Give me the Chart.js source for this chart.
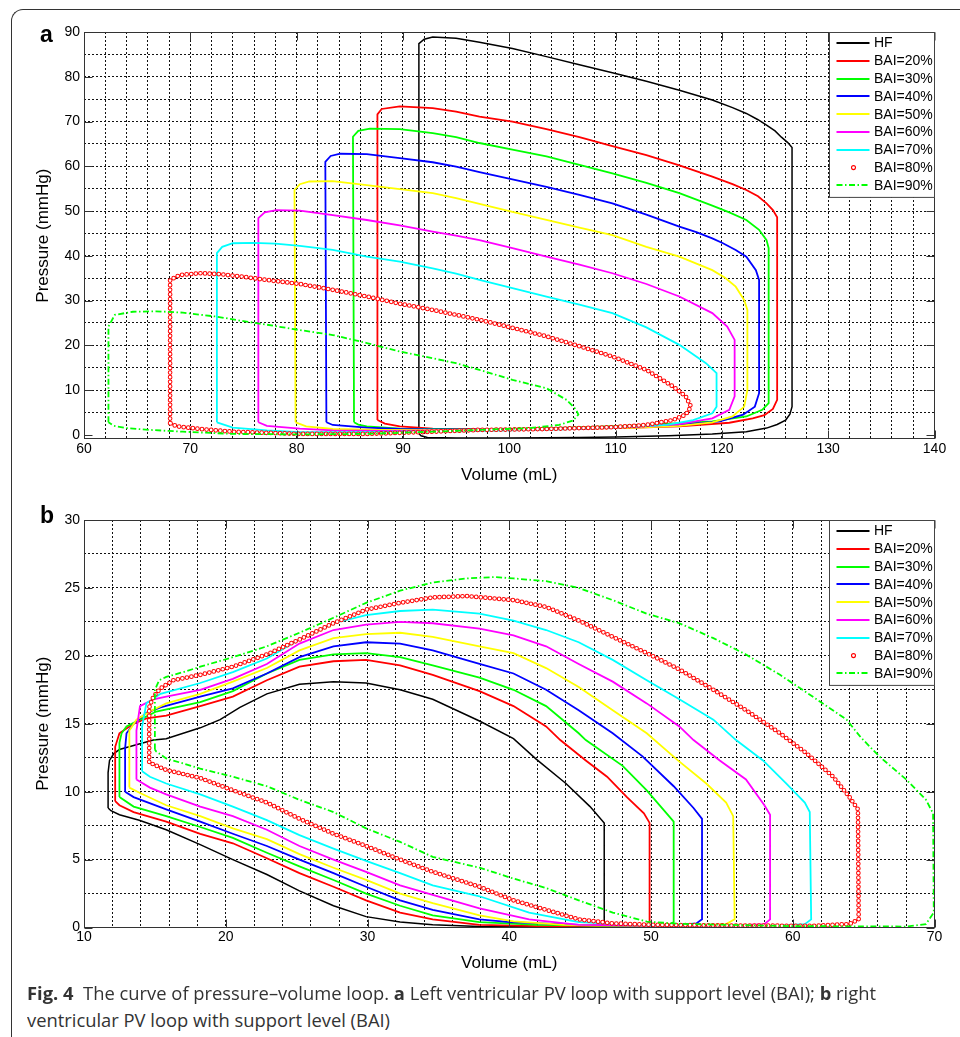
<!DOCTYPE html>
<html>
<head>
<meta charset="utf-8">
<title>Pressure–volume loops</title>
<script src="https://cdn.jsdelivr.net/npm/chart.js@4/dist/chart.umd.min.js"></script>
<style>
  html, body { margin: 0; padding: 0; background: #fff; }
  body { width: 960px; height: 1037px; position: relative; overflow: hidden;
         font-family: "Liberation Sans", Arial, sans-serif; }
  .frame { position: absolute; left: 11px; top: 9px; width: 1000px; height: 1100px;
           border-top: 1.4px solid #333; border-left: 1.4px solid #333; border-top-left-radius: 12px; }
  canvas { position: absolute; left: 0; }
  #cvA { top: 0; }
  #cvB { top: 490px; }
  .panel { position: absolute; font-weight: bold; font-size: 23px; line-height: 1; color: #000; }
  .cap { position: absolute; left: 27px; font-family: "Open Sans", sans-serif; font-size: 18.5px;
         line-height: 1; color: #333; white-space: nowrap; transform-origin: 0 0; }
</style>
</head>
<body>
<div class="frame"></div>
<canvas id="cvA" width="960" height="490"></canvas>
<canvas id="cvB" width="960" height="500"></canvas>
<div class="panel" style="left:40px;top:23px">a</div>
<div class="panel" style="left:40px;top:504px">b</div>
<div class="cap" id="cap1" style="top:984px"><b>Fig. 4</b>&nbsp; The curve of pressure–volume loop. <b>a</b> Left ventricular PV loop with support level (BAI); <b>b</b> right</div>
<div class="cap" id="cap2" style="top:1011px">ventricular PV loop with support level (BAI)</div>

<script>
// ---- series names ----
const seriesLabels = ['HF', 'BAI=20%', 'BAI=30%', 'BAI=40%', 'BAI=50%', 'BAI=60%', 'BAI=70%', 'BAI=80%', 'BAI=90%'];

// ---- left ventricle loops: [volume mL, pressure mmHg] ----
const lvHF = [[91.5,0.3],[91.5,87.4],[92.0,88.4],[92.8,88.9],[95.0,88.6],[97.2,87.7],[100.3,86.3],[103.5,84.5],[106.6,82.7],[109.7,80.9],[112.9,79.0],[116.0,77.0],[119.1,74.8],[121.0,73.1],[122.3,71.8],[123.4,70.4],[124.2,69.2],[125.0,67.9],[125.6,66.5],[126.2,65.3],[126.6,64.2],[126.6,6.3],[126.4,4.6],[126.0,3.3],[125.2,2.3],[124.2,1.5],[122.3,0.7],[119.1,0.2],[115.0,-0.2],[110.0,-0.5],[106.6,-0.6],[100.0,-0.7],[95.0,-0.7],[92.3,-0.6],[91.7,-0.2],[91.5,0.3]];
const lvBAI20 = [[87.6,3.3],[87.6,71.6],[88.0,72.8],[89.7,73.4],[92.8,73.0],[95.0,72.2],[97.2,71.1],[100.3,70.0],[103.5,68.3],[106.6,66.5],[109.7,64.5],[112.9,62.5],[116.0,60.2],[119.1,57.7],[121.0,56.0],[122.3,54.7],[123.4,53.3],[124.2,51.7],[124.8,50.2],[125.2,48.6],[125.2,7.8],[124.8,5.8],[124.0,4.4],[122.9,3.7],[120.7,2.7],[118.0,2.2],[116.0,1.9],[112.0,1.6],[107.0,1.4],[102.0,1.2],[97.2,1.1],[92.8,1.4],[89.7,1.9],[88.3,2.5],[87.6,3.3]];
const lvBAI30 = [[85.4,2.8],[85.3,66.6],[85.8,67.9],[86.9,68.4],[89.7,68.3],[92.8,67.4],[95.0,66.5],[97.2,65.2],[100.3,63.7],[103.5,62.2],[106.6,60.3],[109.7,58.4],[112.9,56.3],[116.0,54.0],[119.1,51.2],[120.7,49.7],[122.3,48.0],[123.5,45.8],[124.2,43.5],[124.4,41.7],[124.4,7.1],[123.8,5.6],[122.3,4.1],[119.1,3.0],[116.0,2.6],[112.0,2.1],[107.0,1.7],[102.0,1.4],[97.2,1.2],[92.8,1.3],[89.7,1.4],[86.6,1.9],[85.8,2.3],[85.4,2.8]];
const lvBAI40 = [[82.8,2.8],[82.7,61.0],[83.2,62.3],[84.1,62.8],[86.6,62.7],[89.7,61.8],[92.8,60.9],[95.0,59.9],[97.2,58.7],[100.3,57.1],[103.5,55.4],[106.6,53.6],[109.7,51.7],[112.9,49.2],[116.0,46.5],[117.6,45.3],[119.1,43.9],[120.1,42.8],[121.3,41.3],[122.3,39.8],[123.2,36.8],[123.5,34.6],[123.5,9.3],[123.1,6.3],[122.0,4.5],[119.8,3.0],[116.0,2.2],[112.0,1.8],[107.0,1.5],[102.0,1.3],[97.2,1.2],[92.8,1.2],[89.7,1.3],[86.6,1.6],[83.4,2.2],[82.8,2.8]];
const lvBAI50 = [[79.9,2.8],[79.8,54.7],[80.3,56.0],[81.2,56.6],[83.4,56.7],[86.6,55.8],[89.7,54.9],[92.8,54.0],[95.0,52.9],[97.2,51.6],[100.3,49.8],[103.5,48.0],[106.6,46.3],[109.7,44.6],[112.9,42.0],[116.0,39.8],[119.1,36.8],[120.3,35.1],[121.3,33.1],[122.1,30.1],[122.4,27.9],[122.4,10.0],[122.1,6.3],[121.0,4.1],[119.1,2.8],[116.0,2.0],[112.0,1.6],[107.0,1.4],[102.0,1.2],[97.2,1.1],[92.8,1.1],[88.0,1.1],[83.4,1.3],[80.9,1.9],[79.9,2.8]];
const lvBAI60 = [[76.4,2.8],[76.4,48.4],[77.0,49.7],[78.1,50.2],[80.3,50.1],[83.4,49.1],[86.6,48.0],[89.7,46.8],[92.8,45.4],[95.0,44.5],[97.2,43.5],[100.3,41.7],[103.5,39.8],[106.6,38.0],[109.7,36.1],[112.9,33.7],[116.0,30.9],[119.1,27.2],[120.5,24.2],[121.2,21.2],[121.2,8.6],[120.7,5.6],[119.1,3.7],[116.0,2.4],[112.0,1.8],[107.0,1.4],[102.0,1.2],[97.2,1.0],[92.8,1.0],[88.0,0.9],[83.4,1.0],[80.3,1.4],[77.2,2.0],[76.4,2.8]];
const lvBAI70 = [[72.5,2.8],[72.5,40.6],[73.0,42.0],[74.0,42.8],[75.9,42.9],[78.0,42.7],[80.3,42.2],[83.4,41.3],[86.6,39.8],[89.7,38.7],[92.8,37.2],[95.0,36.0],[97.2,34.6],[100.3,32.8],[103.5,30.9],[106.6,29.1],[109.7,27.2],[112.9,24.0],[116.0,20.1],[118.5,16.0],[119.5,13.8],[119.5,6.3],[119.1,4.8],[117.3,3.3],[114.8,2.2],[110.0,1.6],[105.0,1.2],[100.0,1.0],[95.0,0.8],[90.0,0.7],[85.0,0.6],[80.3,0.6],[77.2,1.0],[74.0,1.6],[72.5,2.8]];
const lvBAI80 = [[68.1,2.6],[68.1,34.6],[69.0,35.7],[70.9,36.1],[72.8,35.9],[75.0,35.3],[77.2,34.6],[80.3,33.7],[83.4,32.4],[86.6,30.9],[89.7,29.3],[92.8,27.9],[95.0,26.8],[97.2,25.7],[100.3,23.9],[103.5,22.0],[106.6,19.8],[109.7,17.5],[112.9,14.5],[115.4,10.8],[116.6,8.6],[117.1,6.3],[116.6,4.5],[115.4,3.3],[112.9,2.2],[109.7,1.7],[106.6,1.5],[103.5,1.3],[97.2,1.1],[92.8,0.7],[86.6,0.2],[80.3,0.2],[74.0,0.7],[70.9,1.3],[68.7,1.9],[68.1,2.6]];
const lvBAI90 = [[62.3,2.8],[62.3,24.2],[62.9,26.8],[64.6,27.5],[66.8,27.6],[69.3,27.3],[72.5,26.4],[75.0,25.4],[77.2,24.6],[80.3,23.4],[83.4,22.3],[86.6,20.5],[89.7,18.6],[92.8,17.1],[95.0,16.0],[97.2,14.5],[100.3,12.3],[103.5,10.4],[105.4,7.8],[106.3,5.6],[106.5,4.5],[106.0,3.2],[104.7,2.2],[101.9,1.5],[97.2,1.1],[92.8,0.7],[86.6,0.2],[80.3,0.1],[74.0,0.2],[69.3,0.7],[66.2,1.1],[64.0,1.5],[62.8,2.0],[62.3,2.8]];

// ---- right ventricle loops: [volume mL, pressure mmHg] ----
const rvHF = [[11.7,8.8],[11.7,11.4],[11.8,12.3],[12.1,12.8],[12.5,13.1],[13.5,13.4],[14.9,13.8],[15.8,13.9],[18.2,14.7],[19.6,15.3],[21.0,16.2],[22.9,17.2],[25.2,17.9],[27.6,18.1],[29.9,18.0],[32.3,17.5],[34.6,16.8],[37.9,15.2],[40.3,13.9],[41.9,12.4],[44.0,10.6],[45.7,8.9],[46.7,7.7],[46.7,0.2],[45.0,0.05],[40.0,0.05],[37.9,0.07],[34.6,0.2],[32.3,0.4],[29.9,0.8],[27.6,1.6],[25.2,2.7],[22.9,3.9],[20.5,5.0],[18.2,6.1],[15.8,7.2],[13.9,7.9],[12.5,8.3],[11.9,8.6],[11.7,8.8]];
const rvBAI20 = [[12.2,9.3],[12.2,13.3],[12.5,14.3],[13.5,15.0],[14.4,15.4],[15.8,15.6],[18.2,16.3],[20.5,17.0],[22.9,18.2],[25.2,19.2],[27.6,19.6],[29.9,19.7],[32.3,19.3],[34.6,18.6],[37.9,17.4],[40.3,16.3],[42.6,14.8],[43.6,13.8],[45.4,12.3],[46.9,11.1],[48.3,9.6],[49.5,8.4],[49.9,7.7],[49.9,0.4],[49.7,0.2],[48.0,0.1],[42.0,0.1],[37.9,0.2],[34.6,0.6],[32.3,1.1],[29.9,2.0],[27.6,3.0],[25.2,4.0],[22.9,5.1],[20.5,6.2],[18.2,6.9],[15.8,7.8],[13.5,8.5],[12.5,9.0],[12.2,9.3]];
const rvBAI30 = [[12.5,9.6],[12.5,13.6],[12.65,14.3],[13.0,14.8],[13.95,15.3],[15.1,15.9],[18.2,16.6],[20.5,17.4],[22.9,18.7],[25.2,19.7],[27.6,20.1],[29.9,20.2],[32.3,19.9],[34.6,19.3],[37.9,18.4],[40.3,17.5],[42.6,16.3],[44.9,14.3],[45.4,13.8],[48.0,11.9],[49.7,10.1],[51.1,8.4],[51.6,7.8],[51.6,0.4],[51.3,0.2],[49.0,0.1],[42.0,0.2],[37.9,0.4],[34.6,0.9],[32.3,1.6],[29.9,2.5],[27.6,3.5],[25.2,4.5],[22.9,5.5],[20.5,6.6],[18.2,7.4],[15.8,8.2],[13.5,8.9],[12.5,9.6]];
const rvBAI40 = [[12.9,10.0],[12.9,13.2],[13.0,14.3],[13.5,15.0],[14.4,15.8],[15.4,16.2],[18.2,17.0],[20.5,17.6],[22.9,18.7],[25.2,19.9],[27.6,20.7],[29.9,21.0],[32.3,20.9],[34.6,20.4],[37.9,19.4],[40.3,18.7],[42.6,17.5],[44.9,16.0],[47.3,14.3],[49.4,12.6],[51.6,10.4],[53.0,8.8],[53.6,8.0],[53.6,0.6],[53.2,0.3],[51.0,0.1],[45.0,0.2],[40.0,0.4],[37.9,0.6],[34.6,1.3],[32.3,2.0],[29.9,3.0],[27.6,4.0],[25.2,5.0],[22.9,6.0],[20.5,6.9],[18.2,7.8],[15.8,8.7],[13.5,9.6],[12.9,10.0]];
const rvBAI50 = [[13.2,10.3],[13.2,14.5],[13.7,15.3],[14.65,15.9],[15.8,16.5],[18.2,17.2],[20.5,18.1],[22.9,19.1],[25.2,20.4],[27.6,21.3],[29.9,21.6],[32.3,21.7],[34.6,21.4],[37.9,20.7],[40.3,20.2],[42.6,19.1],[44.9,17.7],[47.3,16.0],[49.7,14.3],[51.9,12.3],[53.9,10.6],[55.3,9.2],[55.8,8.2],[55.9,0.6],[55.3,0.25],[53.0,0.1],[46.0,0.15],[43.9,0.2],[40.3,0.45],[37.9,0.9],[34.6,1.8],[32.3,2.5],[29.9,3.5],[27.6,4.4],[25.2,5.4],[22.9,6.5],[20.5,7.3],[18.2,8.2],[15.8,9.0],[13.95,9.9],[13.2,10.3]];
const rvBAI60 = [[13.7,10.9],[13.7,14.5],[13.95,16.3],[14.9,16.8],[15.8,17.0],[18.2,17.5],[20.5,18.3],[22.9,19.4],[25.2,20.9],[27.6,21.9],[29.9,22.3],[32.3,22.5],[34.6,22.4],[37.9,22.0],[40.3,21.5],[42.6,20.7],[44.9,19.4],[47.3,18.1],[49.7,16.5],[52.0,14.8],[53.0,13.8],[54.85,12.3],[56.7,10.9],[58.0,9.0],[58.4,8.3],[58.4,0.6],[58.0,0.25],[55.0,0.1],[48.0,0.15],[44.9,0.2],[41.4,0.6],[37.9,1.4],[34.6,2.4],[32.3,3.1],[29.9,4.1],[27.6,5.0],[25.2,6.0],[22.9,7.2],[20.5,8.2],[18.2,8.9],[15.8,9.8],[14.65,10.3],[13.7,10.9]];
const rvBAI70 = [[14.1,11.5],[14.1,14.8],[14.4,16.5],[15.4,17.2],[18.2,18.0],[20.5,18.8],[22.9,19.8],[25.2,21.2],[27.6,22.4],[29.9,23.0],[32.3,23.3],[34.6,23.4],[37.9,23.1],[40.3,22.6],[42.6,21.9],[44.9,21.0],[47.3,19.7],[49.7,18.2],[52.0,16.8],[54.4,15.3],[56.0,13.8],[57.9,12.3],[59.55,10.6],[60.85,9.2],[61.2,8.5],[61.3,0.6],[60.85,0.25],[58.0,0.1],[50.0,0.15],[44.9,0.4],[41.4,1.1],[37.9,2.3],[34.6,3.1],[32.3,4.0],[29.9,4.9],[27.6,5.8],[25.2,6.8],[22.9,7.9],[20.5,8.9],[18.2,9.8],[15.8,10.6],[14.65,11.1],[14.1,11.5]];
const rvBAI80 = [[14.6,12.2],[14.6,16.2],[14.9,17.0],[15.4,17.6],[16.3,18.2],[18.2,18.6],[20.5,19.2],[22.9,20.1],[25.2,21.2],[27.6,22.4],[29.9,23.4],[32.3,23.9],[34.6,24.3],[37.0,24.4],[40.3,24.1],[42.6,23.6],[44.9,22.6],[47.3,21.4],[49.7,20.2],[52.0,19.0],[54.4,17.5],[56.7,16.0],[59.1,14.3],[61.0,12.8],[62.85,11.1],[64.0,9.6],[64.6,8.7],[64.65,0.6],[64.0,0.25],[61.4,0.12],[55.0,0.15],[50.0,0.2],[47.3,0.3],[44.9,0.6],[42.6,1.3],[40.3,2.0],[37.9,3.0],[34.6,4.1],[32.3,5.0],[29.9,6.0],[27.6,6.9],[25.2,8.0],[22.9,9.2],[20.5,10.1],[18.2,11.0],[15.8,11.6],[14.9,12.0],[14.6,12.2]];
const rvBAI90 = [[15.0,13.1],[15.0,17.5],[15.3,18.2],[15.8,18.45],[17.0,18.8],[18.2,19.2],[20.5,19.9],[22.9,20.7],[25.2,21.7],[27.6,22.8],[29.9,23.9],[32.3,24.8],[34.6,25.4],[37.0,25.7],[39.0,25.8],[40.3,25.7],[42.6,25.5],[44.9,25.0],[47.3,24.1],[49.7,23.1],[52.0,22.4],[54.4,21.3],[56.7,20.1],[59.1,18.6],[61.4,17.0],[63.8,15.3],[64.8,14.0],[66.1,12.6],[68.0,10.9],[69.4,9.4],[69.9,8.4],[69.95,1.1],[69.4,0.25],[68.0,0.07],[60.0,0.1],[52.0,0.27],[49.7,0.44],[47.3,1.1],[44.9,2.0],[42.6,2.9],[40.3,3.6],[37.9,4.4],[34.6,5.2],[32.3,6.3],[29.9,7.3],[27.6,8.5],[25.2,9.4],[22.9,10.4],[20.5,11.1],[18.2,11.7],[15.8,12.45],[15.1,12.95],[15.0,13.1]];

// ---- axis tick labels ----
const lvVolumeLabels = [60, 70, 80, 90, 100, 110, 120, 130, 140];
const lvPressureLabels = [0, 10, 20, 30, 40, 50, 60, 70, 80, 90];
const rvVolumeLabels = [10, 20, 30, 40, 50, 60, 70];
const rvPressureLabels = [0, 5, 10, 15, 20, 25, 30];

// ---- line styles, one per series ----
const seriesColors = ['#000000', '#ff0000', '#00ff00', '#0000ff', '#ffff00', '#ff00ff', '#00ffff', '#ff0000', '#00ff00'];
const MARKER_SERIES = 7;     // drawn as open circles
const DASHDOT_SERIES = 8;    // drawn dash-dot
const dashDot = [6, 2.5, 1.5, 2.5];
const ringDash = [0, 4.6];

const FONT = '"Liberation Sans", Arial, sans-serif';

function buildDatasets(loops) {
  const n = loops.length;
  const sets = [];
  loops.forEach((loop, i) => {
    const pts = loop.map(([x, y]) => ({ x, y }));
    const ds = {
      label: seriesLabels[i], data: pts, showLine: true, pointRadius: 0, pointHoverRadius: 0,
      borderColor: seriesColors[i], backgroundColor: seriesColors[i], borderWidth: i === 0 ? 1.5 : 1.8,
      tension: 0, fill: false, order: n - i
    };
    if (i === MARKER_SERIES) {
      // open circles: a wide round-capped dotted stroke with a thinner white one on top
      Object.assign(ds, { borderWidth: 4.7, borderDash: ringDash, borderCapStyle: 'round' });
      sets.push(ds);
      sets.push({
        label: seriesLabels[i], ring: true, data: pts, showLine: true, pointRadius: 0, pointHoverRadius: 0,
        borderColor: '#ffffff', borderWidth: 2.7, borderDash: ringDash, borderCapStyle: 'round',
        tension: 0, fill: false, order: n - i - 0.5
      });
      return;
    }
    if (i === DASHDOT_SERIES) ds.borderDash = dashDot;
    sets.push(ds);
  });
  return sets;
}

// frame around the plot area plus inward tick marks on all four sides
const axesBox = {
  id: 'axesBox',
  afterDraw(chart, args, opts) {
    const { ctx, chartArea: a, scales: { x, y } } = chart;
    const L = Math.round(a.left) + 0.5, R = Math.round(a.right) - 0.5;
    const T = Math.round(a.top) + 0.5, B = Math.round(a.bottom) - 0.5;
    ctx.save();
    ctx.strokeStyle = '#333';
    ctx.lineWidth = 1;
    ctx.setLineDash([]);
    ctx.strokeRect(L, T, R - L, B - T);
    ctx.beginPath();
    opts.xMajor.forEach(v => {
      const px = Math.round(x.getPixelForValue(v)) + 0.5;
      ctx.moveTo(px, B); ctx.lineTo(px, B - 8);
      ctx.moveTo(px, T); ctx.lineTo(px, T + 8);
    });
    opts.yMajor.forEach(v => {
      const py = Math.round(y.getPixelForValue(v)) + 0.5;
      ctx.moveTo(L, py); ctx.lineTo(L + 8, py);
      ctx.moveTo(R, py); ctx.lineTo(R - 8, py);
    });
    ctx.stroke();
    ctx.restore();
  }
};

// boxed legend in the upper-right corner of the plot area
const boxLegend = {
  id: 'boxLegend',
  afterDraw(chart) {
    const { ctx, chartArea: a } = chart;
    const items = chart.data.datasets.filter(d => !d.ring);
    const w = 106, rowH = 17.8, h = 18 + rowH * (items.length - 1) + 4.5;
    const left = Math.round(a.right - w) + 0.5, top = Math.round(a.top) + 0.5;
    ctx.save();
    ctx.fillStyle = '#fff';
    ctx.fillRect(left, top, w, h);
    ctx.strokeStyle = '#444';
    ctx.lineWidth = 1;
    ctx.setLineDash([]);
    ctx.strokeRect(left, top, w - 1, h);
    ctx.font = '14px ' + FONT;
    ctx.textBaseline = 'middle';
    items.forEach((d, i) => {
      const cy = top + 10.5 + i * rowH;
      ctx.strokeStyle = d.borderColor;
      if (d.borderCapStyle === 'round') {
        ctx.setLineDash([]);
        ctx.lineWidth = 1.1;
        ctx.beginPath();
        ctx.arc(left + 24, cy, 2, 0, Math.PI * 2);
        ctx.stroke();
      } else {
        ctx.setLineDash(d.borderDash || []);
        ctx.lineWidth = 1.8;
        ctx.beginPath();
        ctx.moveTo(left + 7, Math.round(cy));
        ctx.lineTo(left + 40, Math.round(cy));
        ctx.stroke();
      }
      ctx.fillStyle = '#000';
      ctx.fillText(d.label, left + 44.5, cy + 0.5);
    });
    ctx.restore();
  }
};

function gridValues(from, to, step) {
  const out = [];
  for (let v = from; v <= to + 1e-9; v += step) out.push(Math.round(v * 100) / 100);
  return out;
}

function makeChart(canvasId, cfg) {
  const tickFont = { family: FONT, size: 14 };
  const titleFont = { family: FONT, size: 17 };
  return new Chart(document.getElementById(canvasId), {
    type: 'scatter',
    data: { datasets: buildDatasets(cfg.loops) },
    plugins: [axesBox, boxLegend],
    options: {
      responsive: false, animation: false, devicePixelRatio: 1,
      events: [],
      layout: { padding: { left: 0, top: cfg.padTop, right: 25.5, bottom: 0 } },
      plugins: {
        legend: { display: false }, tooltip: { enabled: false },
        axesBox: { xMajor: cfg.xLabels, yMajor: cfg.yLabels }
      },
      scales: {
        x: {
          type: 'linear', position: 'bottom', min: cfg.xMin, max: cfg.xMax,
          afterBuildTicks: s => { s.ticks = cfg.xGrid.map(v => ({ value: v })); },
          afterFit: s => { s.height = cfg.xAxisHeight; },
          ticks: { autoSkip: false, maxRotation: 0, minRotation: 0, padding: 1.5, font: tickFont, color: '#000',
                   callback: v => (cfg.xLabels.includes(v) ? String(v) : '') },
          grid: { drawTicks: false, lineWidth: 1, color: '#111' },
          border: { display: false, dash: [2, 2] },
          title: { display: true, text: 'Volume (mL)', font: titleFont, color: '#000',
                   padding: { top: 0, bottom: cfg.xTitlePad } }
        },
        y: {
          type: 'linear', position: 'left', min: cfg.yMin, max: cfg.yMax,
          afterBuildTicks: s => { s.ticks = cfg.yGrid.map(v => ({ value: v })); },
          afterFit: s => { s.width = 84; },
          ticks: { autoSkip: false, padding: 4, font: tickFont, color: '#000',
                   callback: v => (cfg.yLabels.includes(v) ? String(v) : '') },
          grid: { drawTicks: false, lineWidth: 1,
                  color: c => (c.tick && cfg.yNoGrid.includes(c.tick.value) ? 'rgba(0,0,0,0)' : '#111') },
          border: { display: false, dash: [2, 2] },
          title: { display: true, text: 'Pressure (mmHg)', font: titleFont, color: '#000',
                   padding: { top: 33.3, bottom: 0 } }
        }
      }
    }
  });
}

makeChart('cvA', {
  loops: [lvHF, lvBAI20, lvBAI30, lvBAI40, lvBAI50, lvBAI60, lvBAI70, lvBAI80, lvBAI90],
  xMin: 60, xMax: 140, yMin: -1, yMax: 90,
  xGrid: gridValues(60, 140, 2), yGrid: gridValues(0, 90, 5), yNoGrid: [0],
  xLabels: lvVolumeLabels, yLabels: lvPressureLabels,
  padTop: 32, xAxisHeight: 50.7, xTitlePad: 4.8
});

makeChart('cvB', {
  loops: [rvHF, rvBAI20, rvBAI30, rvBAI40, rvBAI50, rvBAI60, rvBAI70, rvBAI80, rvBAI90],
  xMin: 10, xMax: 70, yMin: 0, yMax: 30,
  xGrid: gridValues(10, 70, 2), yGrid: gridValues(0, 30, 2.5), yNoGrid: [],
  xLabels: rvVolumeLabels, yLabels: rvPressureLabels,
  padTop: 30, xAxisHeight: 62.5, xTitlePad: 16.5
});

// fit the caption's first line to the column width and apply the same squeeze to both lines
(function fitCaption() {
  const c1 = document.getElementById('cap1'), c2 = document.getElementById('cap2');
  const k = 849 / c1.getBoundingClientRect().width;
  c1.style.transform = 'scaleX(' + k + ')';
  c2.style.transform = 'scaleX(' + k + ')';
})();
</script>
</body>
</html>
